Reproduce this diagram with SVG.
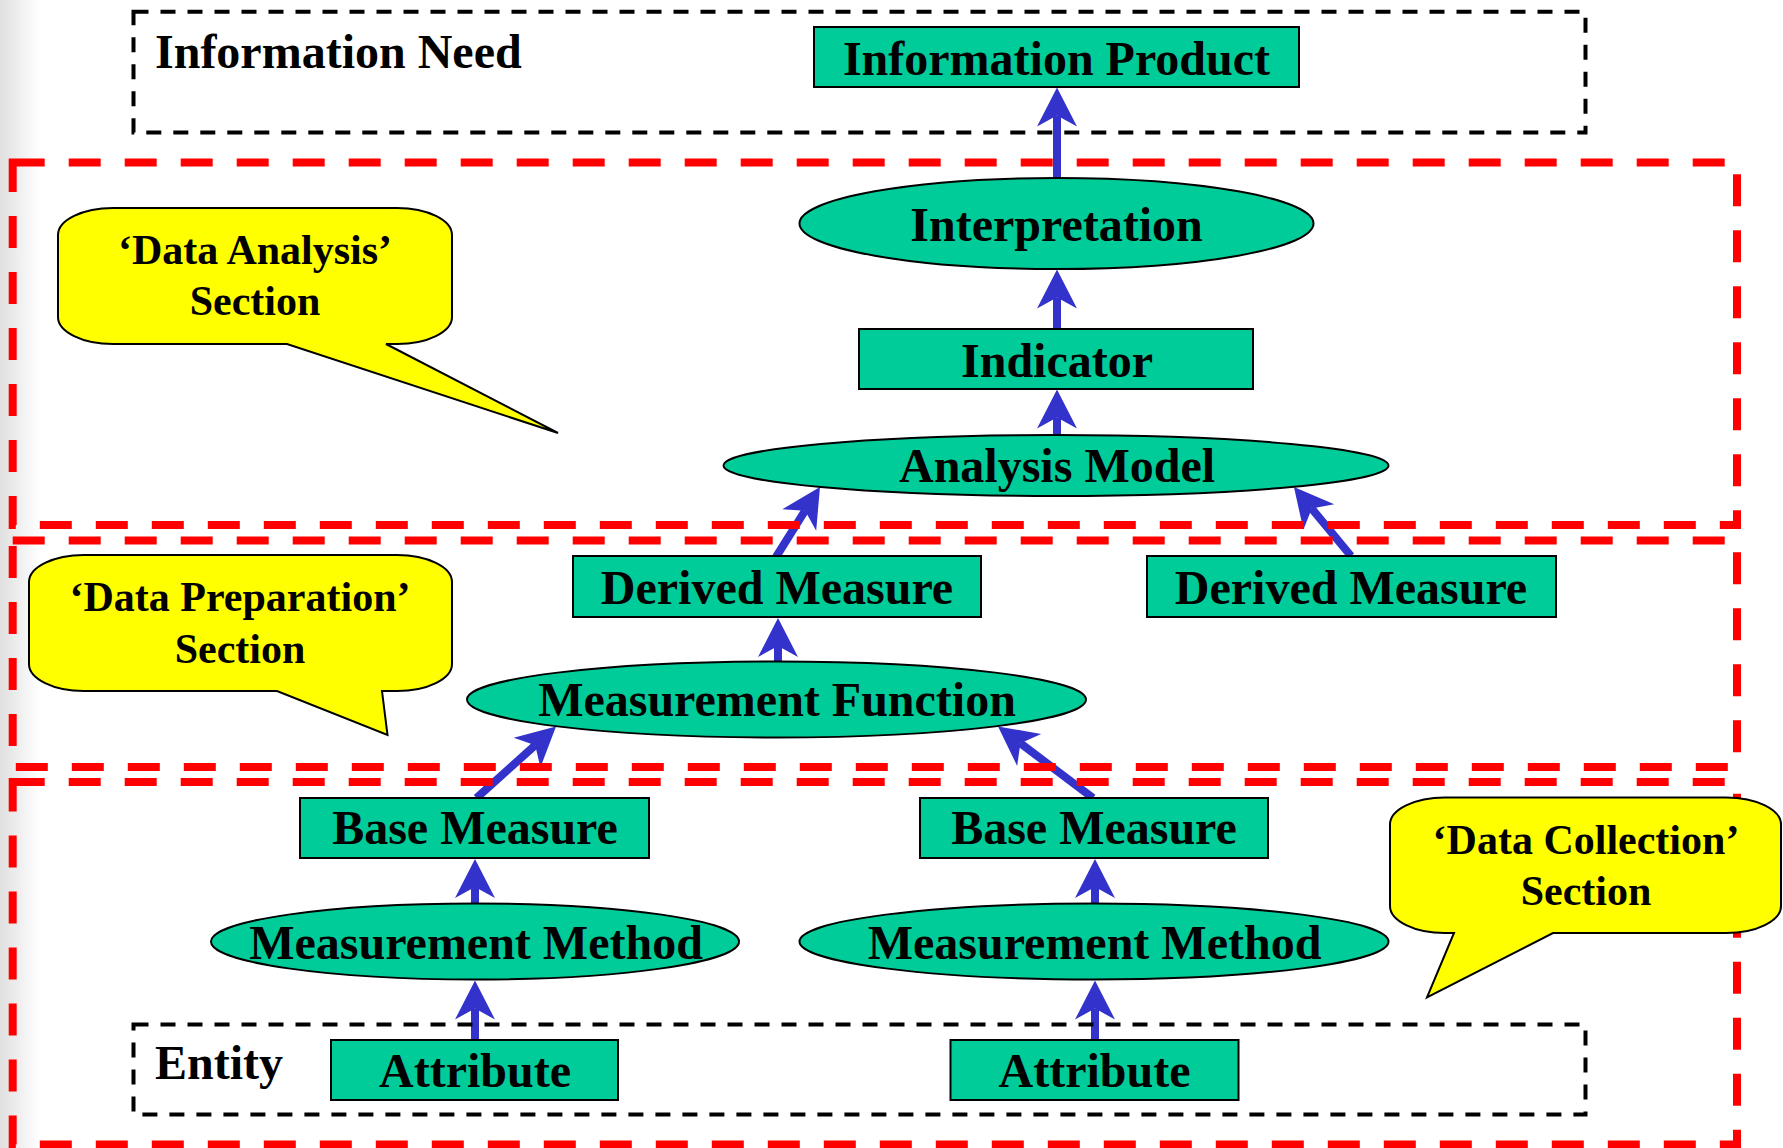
<svg xmlns="http://www.w3.org/2000/svg" width="1783" height="1148" viewBox="0 0 1783 1148">
<style>
.node{fill:#00CC99;stroke:#000;stroke-width:2}
.lbl{font-family:"Liberation Serif","Times New Roman",serif;font-weight:bold;font-size:48px;fill:#000;text-anchor:middle}
.side{font-family:"Liberation Serif","Times New Roman",serif;font-weight:bold;font-size:48px;fill:#000}
.call{fill:#FFFF00;stroke:#000;stroke-width:2;stroke-linejoin:miter}
.ctext{font-family:"Liberation Serif","Times New Roman",serif;font-weight:bold;font-size:42px;fill:#000;text-anchor:middle}
.sec{fill:none;stroke:#FF0000;stroke-width:8;stroke-dasharray:32 24}
.grp{fill:none;stroke:#000;stroke-width:4;stroke-dasharray:15 12}
.con{stroke:#3333CC;stroke-width:8;fill:none;marker-end:url(#ah)}
</style>
<defs>
<linearGradient id="edge" x1="0" y1="0" x2="1" y2="0">
<stop offset="0" stop-color="#e0e0e0"/>
<stop offset="1" stop-color="#ffffff"/>
</linearGradient>
<marker id="ah" markerUnits="userSpaceOnUse" markerWidth="40" markerHeight="40" viewBox="0 -20 40 40" refX="11" refY="0" orient="auto" overflow="visible">
<path d="M39,0 L0,-20 L11,0 L0,20 Z" fill="#3333CC"/>
</marker>
</defs>
<rect x="0" y="0" width="1783" height="1148" fill="#ffffff"/>
<rect x="0" y="0" width="40" height="1148" fill="url(#edge)"/>

<g id="connectors">
<line class="con" x1="1057" y1="178" x2="1057" y2="115.5"/>
<line class="con" x1="1057" y1="329" x2="1057" y2="297.5"/>
<line class="con" x1="1057" y1="435" x2="1057" y2="417.5"/>
<line class="con" x1="776" y1="557" x2="805.1" y2="510.7"/>
<line class="con" x1="1351" y1="556" x2="1311.8" y2="508.6"/>
<line class="con" x1="778" y1="662" x2="778" y2="646"/>
<line class="con" x1="476.5" y1="798" x2="535.2" y2="745.2"/>
<line class="con" x1="1093" y1="798" x2="1020.4" y2="743.3"/>
<line class="con" x1="475" y1="904" x2="475" y2="887"/>
<line class="con" x1="1095" y1="904" x2="1095" y2="887"/>
<line class="con" x1="475" y1="1040" x2="475" y2="1008.5"/>
<line class="con" x1="1095" y1="1040" x2="1095" y2="1008.5"/>
</g>

<g id="section-analysis"><rect class="sec" x="12.7" y="162.5" width="1724.3" height="362.5"/></g>
<g id="section-preparation"><rect class="sec" x="12.7" y="540.5" width="1724.3" height="226.5"/></g>
<g id="section-collection"><rect class="sec" x="12.7" y="782" width="1724.3" height="362.5"/></g>

<g id="information-need">
<rect class="grp" x="133.5" y="11.7" width="1452" height="120.8"/>
<text class="side" x="155" y="68">Information Need</text>
</g>
<g id="entity">
<rect class="grp" x="133.5" y="1024.6" width="1452" height="89.9"/>
<text class="side" x="155" y="1079">Entity</text>
</g>

<g id="callout-analysis">
<path class="call" d="M113,208 H397 A55,27 0 0 1 452,235 V317 A55,27 0 0 1 397,344 H386 L558,433 L287,344 H113 A55,27 0 0 1 58,317 V235 A55,27 0 0 1 113,208 Z"/>
<text class="ctext" x="255" y="264">‘Data Analysis’</text>
<text class="ctext" x="255" y="315">Section</text>
</g>
<g id="callout-preparation">
<path class="call" d="M84,555 H397 A55,27 0 0 1 452,582 V664 A55,27 0 0 1 397,691 H382 L387.5,735 L277,691 H84 A55,27 0 0 1 29,664 V582 A55,27 0 0 1 84,555 Z"/>
<text class="ctext" x="240" y="611">‘Data Preparation’</text>
<text class="ctext" x="240" y="663">Section</text>
</g>
<g id="callout-collection">
<path class="call" d="M1445,797.5 H1726 A55,27 0 0 1 1781,824.5 V906 A55,27 0 0 1 1726,933 H1553 L1427,997.4 L1454,933 H1445 A55,27 0 0 1 1390,906 V824.5 A55,27 0 0 1 1445,797.5 Z"/>
<text class="ctext" x="1586" y="854">‘Data Collection’</text>
<text class="ctext" x="1586" y="905">Section</text>
</g>

<g id="information-product">
<rect class="node" x="814" y="27" width="485" height="60"/>
<text class="lbl" x="1056.5" y="75">Information Product</text>
</g>
<g id="interpretation">
<ellipse class="node" cx="1056.5" cy="223.5" rx="257" ry="45.5"/>
<text class="lbl" x="1056.5" y="241">Interpretation</text>
</g>
<g id="indicator">
<rect class="node" x="859" y="329" width="394" height="60"/>
<text class="lbl" x="1057" y="377">Indicator</text>
</g>
<g id="analysis-model">
<ellipse class="node" cx="1056" cy="465.5" rx="332.5" ry="30.5"/>
<text class="lbl" x="1057" y="482">Analysis Model</text>
</g>
<g id="derived-measure-1">
<rect class="node" x="573" y="556" width="408" height="61"/>
<text class="lbl" x="777" y="604">Derived Measure</text>
</g>
<g id="derived-measure-2">
<rect class="node" x="1147" y="556" width="409" height="61"/>
<text class="lbl" x="1351" y="604">Derived Measure</text>
</g>
<g id="measurement-function">
<ellipse class="node" cx="776.5" cy="699.5" rx="309.5" ry="38"/>
<text class="lbl" x="777" y="716">Measurement Function</text>
</g>
<g id="base-measure-1">
<rect class="node" x="300" y="798" width="349" height="60"/>
<text class="lbl" x="475" y="844">Base Measure</text>
</g>
<g id="base-measure-2">
<rect class="node" x="920" y="798" width="348" height="60"/>
<text class="lbl" x="1094" y="844">Base Measure</text>
</g>
<g id="measurement-method-1">
<ellipse class="node" cx="475" cy="941.5" rx="264" ry="38"/>
<text class="lbl" x="476" y="958.5">Measurement Method</text>
</g>
<g id="measurement-method-2">
<ellipse class="node" cx="1094" cy="941.5" rx="294.5" ry="38"/>
<text class="lbl" x="1094.5" y="958.5">Measurement Method</text>
</g>
<g id="attribute-1">
<rect class="node" x="331" y="1040" width="287" height="60"/>
<text class="lbl" x="475" y="1087">Attribute</text>
</g>
<g id="attribute-2">
<rect class="node" x="950.5" y="1040" width="288" height="60"/>
<text class="lbl" x="1094.5" y="1087">Attribute</text>
</g>
</svg>
